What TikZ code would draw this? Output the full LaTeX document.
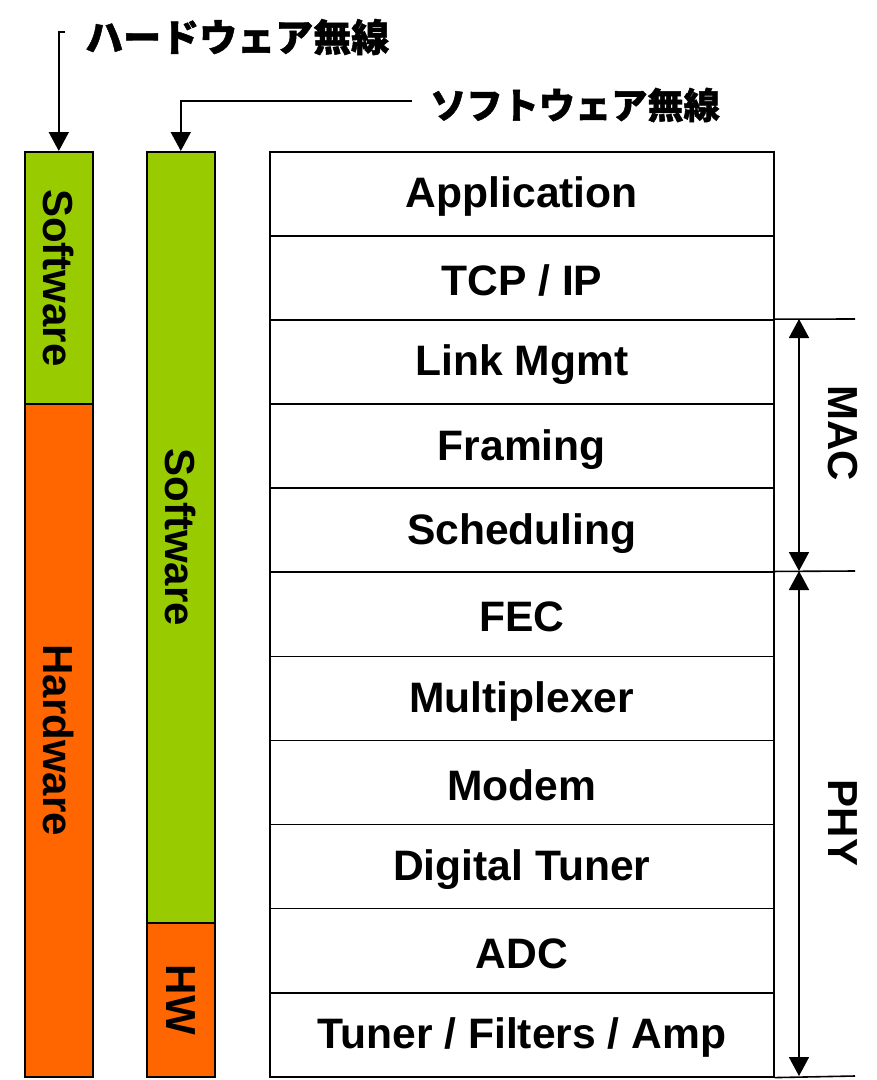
\documentclass[tikz,border=0pt]{standalone}
\usepackage{fontspec}
\setmainfont{Liberation Sans}
\newfontfamily\jpfont{Noto Sans CJK JP}[FakeBold=1.2]
\usetikzlibrary{arrows.meta}
\definecolor{swgreen}{HTML}{99CC00}
\definecolor{hworange}{HTML}{FF6600}
\tikzset{
  layer/.style={draw, line width=1.6pt, minimum width=504pt, minimum height=84.09pt,
    inner sep=0pt, anchor=north west},
  layertext/.style={font=\bfseries\fontsize{42.6}{42.6}\selectfont},
  barpart/.style={draw, line width=1.6pt, minimum width=68pt, inner sep=0pt, anchor=north west},
  bartext/.style={font=\bfseries\fontsize{42}{42}\selectfont, rotate=-90},
  jplabel/.style={font=\jpfont\bfseries\fontsize{38}{38}\selectfont, anchor=west, inner sep=0pt},
  arr/.style={line width=1.8pt, -{Triangle[width=20pt,length=19pt]}},
  dim/.style={line width=1.8pt, {Triangle[width=20pt,length=19pt]}-{Triangle[width=20pt,length=19pt]}},
  ext/.style={line width=1.6pt}
}
\begin{document}
\begin{tikzpicture}[x=1pt,y=-1pt]
\useasboundingbox (0,0) rectangle (877,1080);

% protocol stack
\foreach \nm/\txt [count=\i from 0] in {app/{Application}, tcp/{TCP / IP}, link/{Link Mgmt},
    fram/{Framing}, sched/{Scheduling}, fec/{FEC}, mux/{Multiplexer}, modem/{Modem},
    dtun/{Digital Tuner}, adc/{ADC}, tuner/{Tuner / Filters / Amp}}
{
  \node[layer] (\nm) at (269,{151+\i*84.09}) {};
  \node[layertext] at ([yshift=-3pt]\nm.center) {\txt};
}

% hardware radio bar
\node[barpart, fill=swgreen, minimum height=252pt] (hwsw) at (24,151) {};
\node[barpart, fill=hworange, minimum height=673pt] (hwhw) at (24,403) {};
\node[bartext] at (hwsw.center) {Software};
\node[bartext] at (hwhw.center) {Hardware};

% software radio bar
\node[barpart, fill=swgreen, minimum height=771pt] (swsw) at (146,151) {};
\node[barpart, fill=hworange, minimum height=154pt] (swhw) at (146,922) {};
\node[bartext] at (swsw.center) {Software};
\node[bartext] at (swhw.center) {HW};

% labels with pointers
\node[jplabel] (hwlabel) at (85,37) {ハードウェア無線};
\node[jplabel, font=\jpfont\bfseries\fontsize{36.2}{36.2}\selectfont] (swlabel) at (430,105) {ソフトウェア無線};
\coordinate (hwtick) at (65,32);
\coordinate (swtick) at (412,101);
\draw[arr] (hwtick) -| (hwsw.north);
\draw[arr] (swtick) -| (swsw.north);

% MAC / PHY extents
\coordinate (macend) at (855,319);
\coordinate (phyend) at (855,571);
\coordinate (botend) at (855,1076);
\draw[ext] (link.north east) -- (macend);
\draw[ext] (fec.north east) -- (phyend);
\draw[ext] (tuner.south east) -- (botend);
\coordinate (macA) at (799,319);
\coordinate (macB) at (799,571);
\coordinate (phyB) at (799,1076);
\draw[dim] (macA) -- (macB);
\draw[dim] (macB) -- (phyB);
\node[bartext] (mac) at (843,433) {MAC};
\node[bartext] (phy) at (843,823) {PHY};
\end{tikzpicture}
\end{document}
